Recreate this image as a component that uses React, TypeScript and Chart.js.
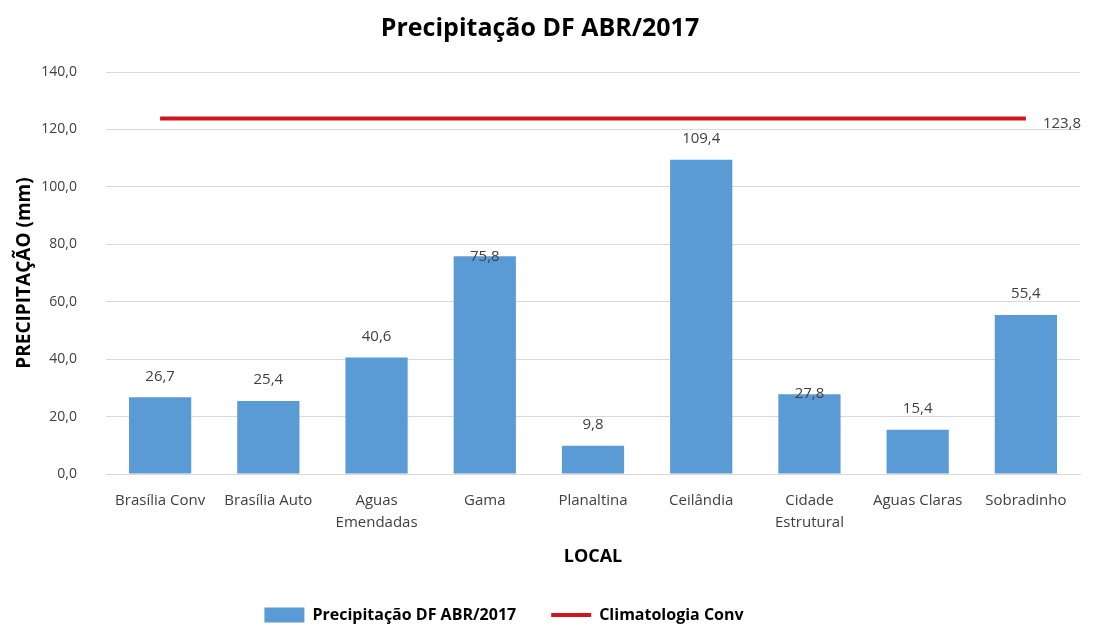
import React, { useEffect, useRef } from "react";
import { Chart, registerables } from "chart.js";

Chart.register(...registerables);

const categories: (string | string[])[] = [
  "Brasília Conv",
  "Brasília Auto",
  ["Aguas", "Emendadas"],
  "Gama",
  "Planaltina",
  "Ceilândia",
  ["Cidade", "Estrutural"],
  "Aguas Claras",
  "Sobradinho",
];
const precipitacao = [26.7, 25.4, 40.6, 75.8, 9.8, 109.4, 27.8, 15.4, 55.4];
const climatologia = [123.8, 123.8, 123.8, 123.8, 123.8, 123.8, 123.8, 123.8, 123.8];
const yTicks = [0, 20, 40, 60, 80, 100, 120, 140];

const FONT = "'Open Sans', sans-serif";
const fmt = (v: number) => v.toFixed(1).replace(".", ",");

const labelPlugin = {
  id: "valueLabels",
  afterLayout(chart: any) {
    if (chart.legend) {
      chart.legend.left -= 36;
      chart.legend.right -= 36;
    }
  },
  afterDatasetsDraw(chart: any) {
    const ctx = chart.ctx;
    ctx.save();
    ctx.font = `15px ${FONT}`;
    ctx.fillStyle = "#404040";
    const barMeta = chart.getDatasetMeta(0);
    const centered = [3, 6];
    barMeta.data.forEach((el: any, i: number) => {
      ctx.textAlign = "center";
      ctx.textBaseline = "middle";
      const y = centered.includes(i) ? el.y : el.y - 21;
      ctx.fillText(fmt(precipitacao[i]), el.x, y);
    });
    const lineMeta = chart.getDatasetMeta(1);
    const last = lineMeta.data[lineMeta.data.length - 1];
    ctx.textAlign = "left";
    ctx.textBaseline = "middle";
    ctx.fillText(fmt(climatologia[climatologia.length - 1]), last.x + 17, last.y + 5);
    ctx.restore();
  },
};

export default function App() {
  const ref = useRef<HTMLCanvasElement>(null);
  useEffect(() => {
    document.body.style.margin = "0";
    const chart = new Chart(ref.current!, {
      type: "bar",
      data: {
        labels: categories,
        datasets: [
          {
            type: "bar",
            label: "Precipitação DF ABR/2017",
            data: precipitacao,
            backgroundColor: "#5b9bd5",
            categoryPercentage: 1,
            barPercentage: 0.575,
            order: 2,
            pointStyle: "rect",
          } as any,
          {
            type: "line",
            label: "Climatologia Conv",
            data: climatologia,
            borderColor: "#d0161c",
            backgroundColor: "#d0161c",
            borderWidth: 4,
            pointRadius: 0,
            order: 1,
            pointStyle: "line",
          } as any,
        ],
      },
      options: {
        animation: false,
        responsive: false,
        layout: { padding: { top: 10, right: 13, left: 0, bottom: -2 } },
        plugins: {
          title: {
            display: true,
            text: "Precipitação DF ABR/2017",
            font: { family: FONT, size: 25, weight: "bold" },
            color: "#000",
            padding: { top: 4, bottom: 28 },
          },
          legend: {
            position: "bottom",
            labels: {
              sort: (a: any, b: any) => a.datasetIndex - b.datasetIndex,
              usePointStyle: true,
              pointStyleWidth: 40,
              boxHeight: 15,
              font: { family: FONT, size: 16, weight: "bold", lineHeight: 1 },
              color: "#000",
              padding: 35,
            },
          },
          tooltip: { enabled: false },
        },
        scales: {
          x: {
            grid: { display: false, drawTicks: false },
            border: { color: "#d9d9d9" },
            ticks: {
              autoSkip: false,
              maxRotation: 0,
              color: "#404040",
              font: { family: FONT, size: 15, lineHeight: 1.5 },
              padding: 15,
            },
            title: {
              display: true,
              text: "LOCAL",
              font: { family: FONT, size: 18, weight: "bold" },
              color: "#000",
              padding: { top: 0, bottom: 4 },
            },
            afterFit(scale: any) {
              scale.height = 98;
            },
          },
          y: {
            min: 0,
            max: 140,
            afterBuildTicks(scale: any) {
              scale.ticks = yTicks.map((v) => ({ value: v }));
            },
            grid: { color: "#d9d9d9", drawTicks: false },
            border: { display: false },
            ticks: {
              color: "#404040",
              font: { family: FONT, size: 14 },
              padding: 29,
              callback: (v: any) => fmt(Number(v)),
            },
            title: {
              display: true,
              text: "PRECIPITAÇÃO (mm)",
              font: { family: FONT, size: 19, weight: "bold" },
              color: "#000",
              padding: { top: 13, bottom: 0 },
            },
            afterFit(scale: any) {
              scale.width = 106;
            },
          },
        },
      },
      plugins: [labelPlugin],
    });
    return () => chart.destroy();
  }, []);
  return <canvas ref={ref} width={1093} height={631} style={{ display: "block" }} />;
}
